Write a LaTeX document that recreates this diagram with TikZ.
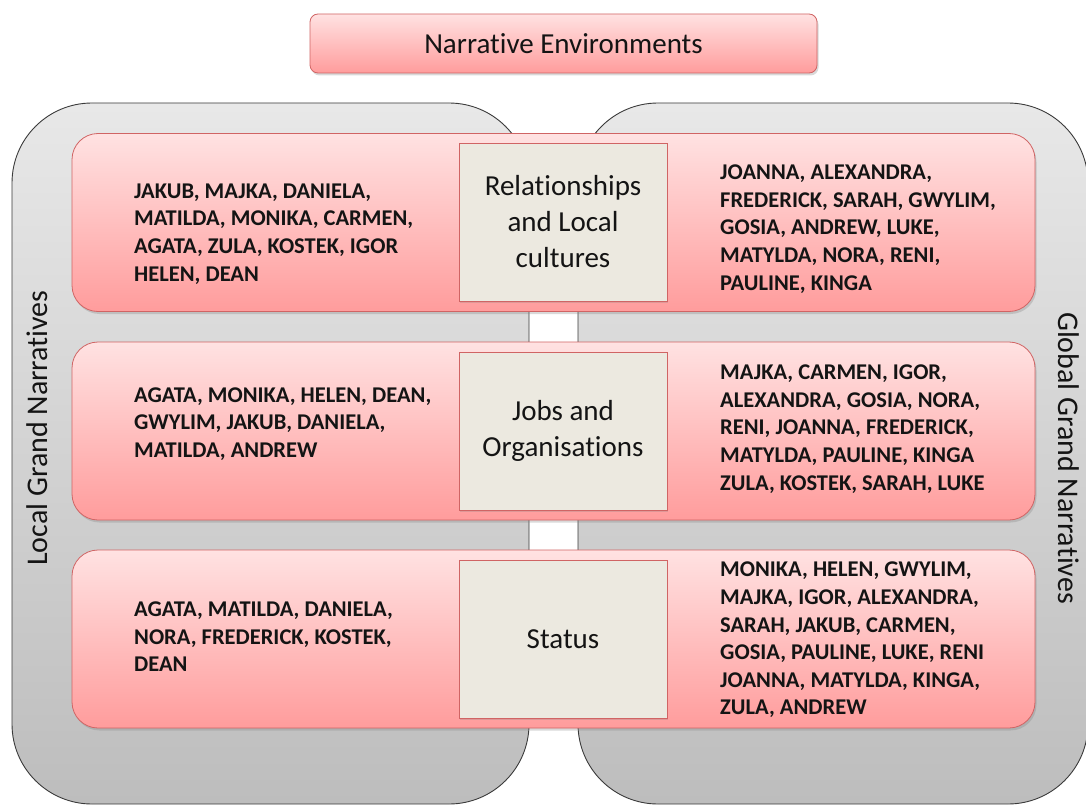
\documentclass[tikz,border=0pt]{standalone}
\usepackage{fontspec}
\setmainfont{Carlito}[Ligatures=NoCommon]
\usetikzlibrary{shadows}

\definecolor{panelTop}{HTML}{E8E8E8}
\definecolor{panelBot}{HTML}{BDBDBD}
\definecolor{panelLine}{HTML}{3A3A3A}
\definecolor{pinkTop}{HTML}{FFE2E2}
\definecolor{pinkBot}{HTML}{FF9C9C}
\definecolor{pinkLine}{HTML}{D06464}
\definecolor{beige}{HTML}{ECE9E0}
\definecolor{ink}{HTML}{141414}

\tikzset{
  panel/.style={rounded corners=80pt, top color=panelTop, bottom color=panelBot,
                draw=panelLine, line width=0.9pt},
  band/.style={rectangle, rounded corners=26pt, top color=pinkTop, bottom color=pinkBot,
               draw=pinkLine, line width=0.8pt, minimum width=963pt, minimum height=178pt,
               drop shadow={opacity=0.3, shadow xshift=1.5pt, shadow yshift=-2.5pt}},
  titlebox/.style={rectangle, rounded corners=8pt, top color=pinkTop, bottom color=pinkBot,
               draw=pinkLine, line width=0.8pt, minimum width=507pt, minimum height=59pt,
               font=\fontsize{29}{35}\selectfont, text=ink,
               drop shadow={opacity=0.3, shadow xshift=1.5pt, shadow yshift=-2.5pt}},
  themebox/.style={rectangle, fill=beige, draw=pinkLine, line width=0.8pt,
               minimum width=208pt, minimum height=158pt, align=center,
               font=\fontsize{29}{36}\selectfont, text=ink,
               drop shadow={opacity=0.25, shadow xshift=1pt, shadow yshift=-1.5pt}},
  names/.style={anchor=west, align=left, inner sep=0pt, text=ink,
               font=\bfseries\fontsize{22.5}{27.6}\selectfont},
  sidelabel/.style={font=\fontsize{30}{36}\selectfont, text=ink, inner sep=0pt},
}

\begin{document}
\begin{tikzpicture}[x=1pt, y=-1pt]
  \useasboundingbox (0,0) rectangle (1086,805);
  \clip (0,0) rectangle (1086,805);

  % the two grand-narrative panels
  \path[panel] (12,103) rectangle (529,804);
  \path[panel] (578,103) rectangle (1088,804);

  \node[sidelabel, rotate=90] (localgn) at (37,428) {Local Grand Narratives};
  \node[sidelabel, rotate=-90] (globalgn) at (1069,458) {Global Grand Narratives};

  % heading
  \node[titlebox] (title) at (563.5,43.5) {Narrative Environments};

  % three environment bands
  \node[band] (band1) at (553.5,222.5) {};
  \node[band] (band2) at (553.5,431) {};
  \node[band] (band3) at (553.5,639) {};

  % themes in the middle of each band
  \node[themebox] (rel) at (563,222) {Relationships\\and Local\\cultures};
  \node[themebox] (jobs) at (563,431) {Jobs and\\Organisations};
  \node[themebox] (status) at (563,639) {Status};

  % local side
  \node[names] (l1) at (134,234) {JAKUB, MAJKA, DANIELA,\\MATILDA, MONIKA, CARMEN,\\AGATA, ZULA, KOSTEK, IGOR\\HELEN, DEAN};
  \node[names] (l2) at (134,424) {AGATA, MONIKA, HELEN, DEAN,\\GWYLIM, JAKUB, DANIELA,\\MATILDA, ANDREW};
  \node[names] (l3) at (134,637) {AGATA, MATILDA, DANIELA,\\NORA, FREDERICK, KOSTEK,\\DEAN};

  % global side
  \node[names] (r1) at (720,229) {JOANNA, ALEXANDRA,\\FREDERICK, SARAH, GWYLIM,\\GOSIA, ANDREW, LUKE,\\MATYLDA, NORA, RENI,\\PAULINE, KINGA};
  \node[names] (r2) at (720,429) {MAJKA, CARMEN, IGOR,\\ALEXANDRA, GOSIA, NORA,\\RENI, JOANNA, FREDERICK,\\MATYLDA, PAULINE, KINGA\\ZULA, KOSTEK, SARAH, LUKE};
  \node[names] (r3) at (720,640) {MONIKA, HELEN, GWYLIM,\\MAJKA, IGOR, ALEXANDRA,\\SARAH, JAKUB, CARMEN,\\GOSIA, PAULINE, LUKE, RENI\\JOANNA, MATYLDA, KINGA,\\ZULA, ANDREW};
\end{tikzpicture}
\end{document}
